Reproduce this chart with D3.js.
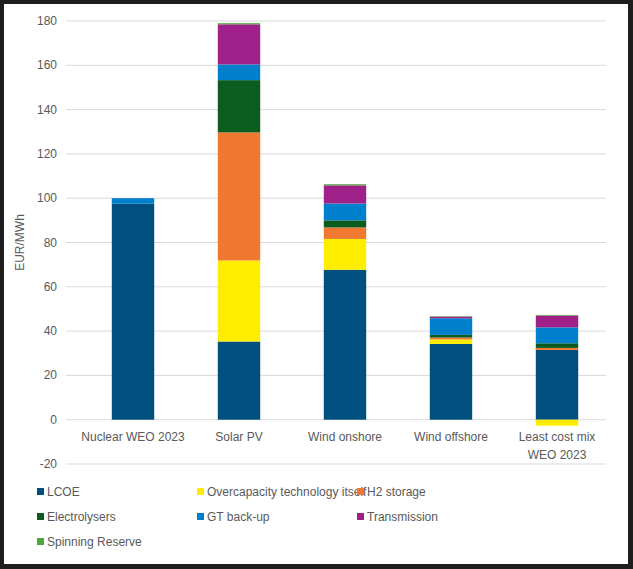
<!DOCTYPE html>
<html><head><meta charset="utf-8">
<script src="https://cdn.jsdelivr.net/npm/d3@7"></script>
<style>body{margin:0;background:#1e1e1e;}svg{display:block;font-family:"Liberation Sans Narrow","Liberation Sans",Arial,sans-serif;}</style>
</head><body>
<script>
const categories = ["Nuclear WEO 2023","Solar PV","Wind onshore","Wind offshore","Least cost mix WEO 2023"];
const seriesNames = ["LCOE","Overcapacity technology itself","H2 storage","Electrolysers","GT back-up","Transmission","Spinning Reserve"];
const colors = ["#004f7f","#ffed00","#f07830","#0b5c1e","#0080cc","#a0208a","#4ca63c"];
const LCOE = [97.5, 35.3, 67.7, 34.2, 31.5];
const overcapacity = [0, 36.6, 13.9, 2.0, -2.7];
const h2storage = [0, 57.8, 5.2, 0.9, 0.9];
const electrolysers = [0, 23.6, 3.2, 1.2, 2.1];
const gtBackup = [2.5, 7.1, 7.6, 7.5, 7.2];
const transmission = [0, 18.1, 8.2, 0.7, 5.3];
const spinning = [0, 0.5, 0.5, 0.2, 0.3];
const yTicks = [-20,0,20,40,60,80,100,120,140,160,180];

const series = [LCOE, overcapacity, h2storage, electrolysers, gtBackup, transmission, spinning];
const W=633,H=569;
const svg=d3.select("body").append("svg").attr("width",W).attr("height",H);
svg.append("rect").attr("x",4).attr("y",4).attr("width",624).attr("height",560).attr("fill","#fff");
const x=d3.scaleBand().domain(categories).range([80,610]).paddingInner(0.6).paddingOuter(0.3);
const y=d3.scaleLinear().domain([-20,180]).range([464,21]);
svg.append("g").selectAll("line").data(yTicks).join("line")
 .attr("x1",66).attr("x2",606).attr("y1",d=>y(d)).attr("y2",d=>y(d))
 .attr("stroke","#d9d9d9").attr("stroke-width",1);
svg.append("g").selectAll("text").data(yTicks).join("text")
 .attr("x",57).attr("y",d=>y(d)+4).attr("text-anchor","end").attr("font-size",12).attr("fill","#595959").text(d=>d);
svg.append("text").attr("transform",`translate(24,${y(80)}) rotate(-90)`).attr("text-anchor","middle").attr("font-size",12).attr("fill","#595959").text("EUR/MWh");
categories.forEach((c,i)=>{
  let pos=0,neg=0;
  series.forEach((s,k)=>{
    const v=s[i]; if(!v) return;
    let y0,y1;
    if(v>=0){y0=pos;y1=pos+v;pos=y1;}else{y0=neg;y1=neg+v;neg=y1;}
    svg.append("rect").attr("x",x(c)).attr("width",x.bandwidth())
      .attr("y",y(Math.max(y0,y1))).attr("height",Math.abs(y(y0)-y(y1))).attr("fill",colors[k]);
  });
});
const lab=svg.append("g");
categories.forEach(c=>{
  const cx=x(c)+x.bandwidth()/2;
  const lines = c==="Least cost mix WEO 2023"?["Least cost mix","WEO 2023"]:[c];
  lines.forEach((l,j)=>lab.append("text").attr("x",cx).attr("y",441+j*18).attr("text-anchor","middle").attr("font-size",12).attr("fill","#595959").text(l));
});
seriesNames.forEach((n,k)=>{
  const cx=37+(k%3)*160, cy=492+Math.floor(k/3)*25;
  svg.append("rect").attr("x",cx).attr("y",cy-4).attr("width",7).attr("height",7).attr("fill",colors[k]);
  svg.append("text").attr("x",cx+10).attr("y",cy+4).attr("font-size",12).attr("fill","#595959").text(n);
});
</script>
</body></html>
